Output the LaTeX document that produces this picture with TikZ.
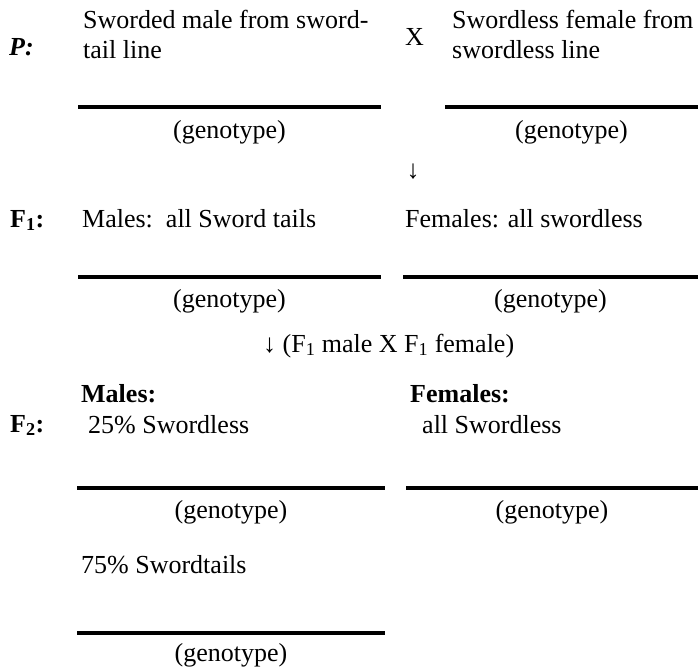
\documentclass[tikz,border=0pt]{standalone}
\usepackage{fontspec}
\setmainfont{Liberation Serif}
\begin{document}
\begin{tikzpicture}[x=1pt,y=-1pt,font=\fontsize{26}{30}\selectfont,
	 txt/.style={anchor=base west,inner sep=0pt},
	 geno/.style={anchor=base,inner sep=0pt},
	 blank/.style={line width=3.5pt}]
	 \useasboundingbox (0,0) rectangle (698,667);
	 % parents
	 \node[txt] (P) at (9,55) {\textbf{\textit{P:}}};
	 \node[txt] (pmale1) at (83,28) {Sworded male from sword-};
	 \node[txt] (pmale2) at (83,58) {tail line};
	 \node[txt] (cross) at (405,45) {X};
	 \node[txt] (pfem1) at (452,28) {Swordless female from};
	 \node[txt] (pfem2) at (452,58) {swordless line};
	 \draw[blank] (78,107)--(381,107) (445,107)--(698,107);
	 \node[geno] (pgmale) at (229.5,138) {(genotype)};
	 \node[geno] (pgfem) at (571.5,138) {(genotype)};
	 \node[geno] (down1) at (413,178) {↓};
	 % F1
	 \node[txt] (F1) at (10,227) {\textbf{F\textsubscript{1}:}};
	 \node[txt] (fmale) at (82,227) {Males:\ \ all Sword tails};
	 \node[txt] (ffem) at (405,227) {Females: all swordless};
	 \draw[blank] (78,277)--(381,277) (403,277)--(698,277);
	 \node[geno] (fgmale) at (229.5,307) {(genotype)};
	 \node[geno] (fgfem) at (550.5,307) {(genotype)};
	 \node[txt] (down2) at (263,352) {↓ (F\textsubscript{1} male X F\textsubscript{1} female)};
	 % F2
	 \node[txt] (smales) at (81,402) {\textbf{Males:}};
	 \node[txt] (sfems) at (410,402) {\textbf{Females:}};
	 \node[txt] (F2) at (10,432) {\textbf{F\textsubscript{2}:}};
	 \node[txt] (smale25) at (88,433) {25\% Swordless};
	 \node[txt] (sfemall) at (422,433) {all Swordless};
	 \draw[blank] (77,488)--(385,488) (406,488)--(698,488);
	 \node[geno] (sgmale25) at (231,518) {(genotype)};
	 \node[geno] (sgfem) at (552,518) {(genotype)};
	 \node[txt] (smale75) at (81,573) {75\% Swordtails};
	 \draw[blank] (77,633)--(385,633);
	 \node[geno] (sgmale75) at (231,661) {(genotype)};
\end{tikzpicture}
\end{document}
